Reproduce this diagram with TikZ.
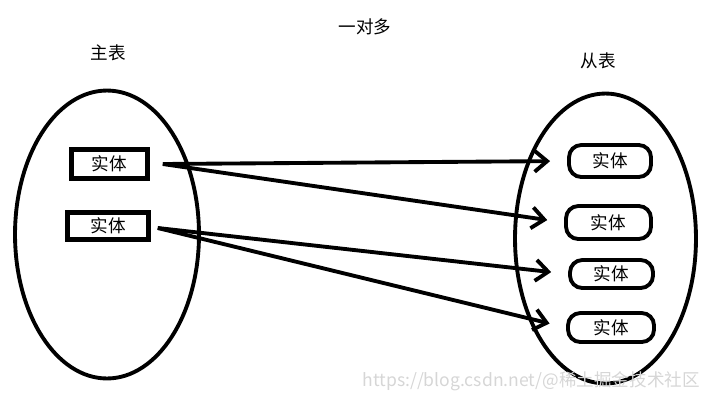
\documentclass[tikz,border=0pt]{standalone}
\usepackage{fontspec}
\newfontfamily\cjk{Noto Sans CJK SC}
\usetikzlibrary{arrows.meta,shapes.geometric,positioning}

\begin{document}
\begin{tikzpicture}
    [
      x=0.02cm, y=-0.02cm,
      table/.style={ellipse,draw,line width=2.2pt},
      entity/.style={draw,line width=2.6pt,inner sep=0pt,font=\cjk\fontsize{10}{12}\selectfont},
      row/.style={draw,rounded corners=7pt,line width=2.2pt,inner sep=0pt,font=\cjk\fontsize{10}{12}\selectfont},
      caption/.style={font=\cjk\fontsize{10}{12}\selectfont},
      post/.style={-{Straight Barb[length=0.25cm,width=0.42cm]},line width=2.2pt,shorten >=0.34cm},
    ]

    \useasboundingbox (0,0) rectangle (716,403);

    \node (title) [caption] at (365,27) {一对多};
    \node (main-label) [caption] at (108,53) {主表};
    \node (sub-label) [caption] at (598,61) {从表};

    \node (main-table) [table,minimum width=3.68cm,minimum height=5.76cm] at (107,234.5) {};
    \node (sub-table) [table,minimum width=3.62cm,minimum height=5.8cm] at (605.5,238.5) {};

    \node (main-1) [entity,minimum width=1.52cm,minimum height=0.58cm] at (109.5,164) {实体};
    \node (main-2) [entity,minimum width=1.62cm,minimum height=0.54cm] at (108,226) {实体};

    \node (sub-1) [row,minimum width=1.64cm,minimum height=0.64cm] at (610,161) {实体};
    \node (sub-2) [row,minimum width=1.7cm,minimum height=0.66cm] at (608.5,222.5) {实体};
    \node (sub-3) [row,minimum width=1.66cm,minimum height=0.56cm] at (611.5,274) {实体};
    \node (sub-4) [row,minimum width=1.72cm,minimum height=0.58cm] at (611,327.5) {实体};

    % the lines start a little right of the boxes
    \coordinate (main-1-out) at ([xshift=0.26cm]main-1.east);
    \coordinate (main-2-out) at ([xshift=0.14cm,yshift=-0.04cm]main-2.east);

    \path
    (main-1-out) edge [post] (sub-1.west)
    (main-1-out) edge [post] (sub-2.west)

    (main-2-out) edge [post] (sub-3.west)
    (main-2-out) edge [post] (sub-4.west)
    ;

    \node (mark) [caption,text=black!16,anchor=east] at (706,381) {https://blog.csdn.net/@稀土掘金技术社区};

  \end{tikzpicture}
\end{document}
